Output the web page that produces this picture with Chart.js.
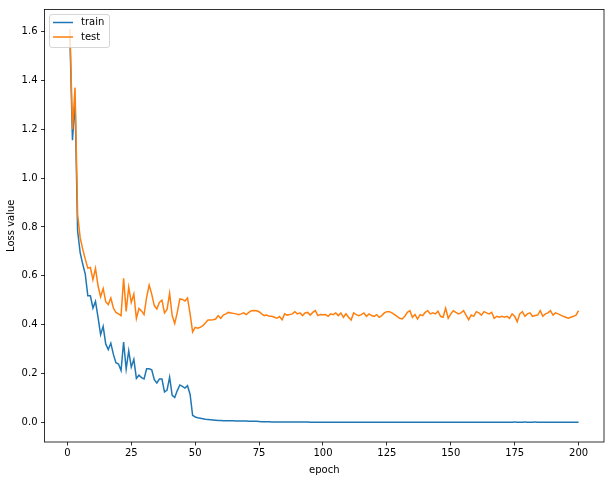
<!DOCTYPE html>
<html>
<head>
<meta charset="utf-8">
<script src="https://cdn.jsdelivr.net/npm/chart.js@4.4.1/dist/chart.umd.min.js"></script>
<style>
html,body{margin:0;padding:0;background:#fff;}
#wrap{width:609px;height:480px;position:relative;}
</style>
</head>
<body>
<div id="wrap"><canvas id="c" width="609" height="480"></canvas></div>
<script>
// ---- data ----
const epochs = [
  1,2,3,4,5,6,7,8,9,10,11,12,13,14,15,16,17,18,19,20,
  21,22,23,24,25,26,27,28,29,30,31,32,33,34,35,36,37,38,39,40,
  41,42,43,44,45,46,47,48,49,50,51,52,53,54,55,56,57,58,59,60,
  61,62,63,64,65,66,67,68,69,70,71,72,73,74,75,76,77,78,79,80,
  81,82,83,84,85,86,87,88,89,90,91,92,93,94,95,96,97,98,99,100,
  101,102,103,104,105,106,107,108,109,110,111,112,113,114,115,116,117,118,119,120,
  121,122,123,124,125,126,127,128,129,130,131,132,133,134,135,136,137,138,139,140,
  141,142,143,144,145,146,147,148,149,150,151,152,153,154,155,156,157,158,159,160,
  161,162,163,164,165,166,167,168,169,170,171,172,173,174,175,176,177,178,179,180,
  181,182,183,184,185,186,187,188,189,190,191,192,193,194,195,196,197,198,199,200
];
const trainLoss = [
  1.58,1.155,1.32,0.784,0.695,0.648,0.607,0.518,0.518,0.468,
  0.495,0.430,0.359,0.393,0.321,0.298,0.324,0.278,0.244,0.239,
  0.212,0.329,0.218,0.293,0.226,0.258,0.180,0.193,0.183,0.178,
  0.219,0.219,0.215,0.175,0.161,0.177,0.177,0.124,0.132,0.185,
  0.110,0.102,0.130,0.153,0.147,0.140,0.150,0.115,0.029,0.022,
  0.019,0.017,0.015,0.013,0.012,0.011,0.010,0.009,0.008,0.008,
  0.007,0.007,0.006,0.006,0.006,0.005,0.005,0.005,0.005,0.005,
  0.004,0.004,0.004,0.004,0.003,0.002,0.002,0.002,0.002,0.0015,
  0.0015,0.0014,0.0013,0.0013,0.0012,0.0012,0.0011,0.0011,0.0010,0.0010,
  0.0010,0.0009,0.0009,0.0009,0.0008,0.0008,0.0008,0.0008,0.0007,0.0007,
  0.0007,0.0007,0.0007,0.0007,0.0006,0.0006,0.0006,0.0006,0.0006,0.0006,
  0.0006,0.0006,0.0006,0.0005,0.0005,0.0005,0.0005,0.0005,0.0005,0.0005,
  0.0005,0.0005,0.0005,0.0005,0.0005,0.0005,0.0005,0.0005,0.0005,0.0005,
  0.0004,0.0004,0.0004,0.0004,0.0004,0.0004,0.0004,0.0004,0.0004,0.0004,
  0.0004,0.0004,0.0004,0.0004,0.0004,0.0004,0.0004,0.0004,0.0004,0.0004,
  0.0004,0.0004,0.0004,0.0004,0.0004,0.0004,0.0004,0.0004,0.0004,0.0004,
  0.0004,0.0004,0.0004,0.0004,0.0004,0.0004,0.0004,0.0004,0.0004,0.0004,
  0.0004,0.0005,0.0006,0.0008,0.0009,0.0008,0.0007,0.0008,0.0009,0.0008,
  0.0007,0.0008,0.0009,0.0008,0.0007,0.0006,0.0005,0.0004,0.0004,0.0004,
  0.0004,0.0004,0.0004,0.0004,0.0004,0.0004,0.0004,0.0004,0.0004,0.0004
];
const testLoss = [
  1.61,1.20,1.37,0.852,0.756,0.709,0.668,0.631,0.634,0.584,
  0.630,0.559,0.514,0.548,0.494,0.482,0.509,0.468,0.450,0.444,
  0.437,0.590,0.454,0.553,0.491,0.525,0.425,0.466,0.456,0.441,
  0.512,0.562,0.525,0.478,0.464,0.491,0.500,0.448,0.462,0.528,
  0.437,0.405,0.450,0.505,0.503,0.497,0.509,0.445,0.370,0.389,
  0.385,0.389,0.396,0.407,0.419,0.419,0.420,0.423,0.437,0.426,
  0.439,0.444,0.450,0.448,0.446,0.444,0.441,0.444,0.448,0.441,
  0.450,0.457,0.458,0.457,0.453,0.444,0.437,0.439,0.434,0.434,
  0.430,0.426,0.433,0.420,0.444,0.439,0.441,0.444,0.453,0.444,
  0.448,0.437,0.448,0.450,0.439,0.450,0.457,0.437,0.441,0.440,
  0.441,0.434,0.444,0.441,0.448,0.437,0.448,0.430,0.444,0.430,
  0.419,0.448,0.441,0.437,0.441,0.448,0.434,0.444,0.437,0.434,
  0.441,0.430,0.437,0.448,0.453,0.453,0.448,0.441,0.434,0.426,
  0.423,0.434,0.450,0.457,0.430,0.441,0.423,0.441,0.437,0.450,
  0.457,0.444,0.448,0.444,0.455,0.434,0.430,0.467,0.426,0.444,
  0.457,0.450,0.444,0.448,0.457,0.439,0.420,0.439,0.434,0.453,
  0.448,0.439,0.453,0.448,0.444,0.450,0.426,0.434,0.430,0.434,
  0.430,0.434,0.426,0.444,0.434,0.412,0.444,0.453,0.434,0.444,
  0.448,0.434,0.437,0.439,0.457,0.434,0.444,0.448,0.457,0.439,
  0.448,0.444,0.439,0.434,0.430,0.426,0.430,0.434,0.439,0.457
];
const xTicks = [0,25,50,75,100,125,150,175,200];
const yTicks = [0.0,0.2,0.4,0.6,0.8,1.0,1.2,1.4,1.6];
const seriesNames = ['train','test'];
const seriesColors = ['#1f77b4','#ff7f0e'];
const xTitle = 'epoch';
const yTitle = 'Loss value';

const FONT = 'DejaVu Sans';

const framePlugin = {
  id: 'frame',
  afterDraw(chart) {
    const {ctx, chartArea: a} = chart;
    ctx.save();
    ctx.strokeStyle = '#000';
    ctx.lineWidth = 0.8;
    ctx.strokeRect(a.left, a.top, a.right - a.left, a.bottom - a.top);
    // legend (upper left, inside axes)
    const bx = a.left + 5, by = a.top + 5, bw = 60, bh = 33, r = 2.5;
    ctx.beginPath();
    ctx.moveTo(bx + r, by);
    ctx.lineTo(bx + bw - r, by);
    ctx.quadraticCurveTo(bx + bw, by, bx + bw, by + r);
    ctx.lineTo(bx + bw, by + bh - r);
    ctx.quadraticCurveTo(bx + bw, by + bh, bx + bw - r, by + bh);
    ctx.lineTo(bx + r, by + bh);
    ctx.quadraticCurveTo(bx, by + bh, bx, by + bh - r);
    ctx.lineTo(bx, by + r);
    ctx.quadraticCurveTo(bx, by, bx + r, by);
    ctx.closePath();
    ctx.fillStyle = 'rgba(255,255,255,0.8)';
    ctx.fill();
    ctx.strokeStyle = 'rgba(204,204,204,0.8)';
    ctx.lineWidth = 1;
    ctx.stroke();
    ctx.font = '10px "' + FONT + '"';
    ctx.textBaseline = 'middle';
    ctx.textAlign = 'left';
    seriesNames.forEach((name, i) => {
      const y = by + 8 + i * 14.5;
      ctx.strokeStyle = seriesColors[i];
      ctx.lineWidth = 1.5;
      ctx.beginPath();
      ctx.moveTo(bx + 3.5, y);
      ctx.lineTo(bx + 23.5, y);
      ctx.stroke();
      ctx.fillStyle = '#000';
      ctx.fillText(name, bx + 31.5, y);
    });
    ctx.restore();
  }
};

const ds = (vals, i) => ({
  label: seriesNames[i],
  data: vals.map((v, k) => ({x: epochs[k], y: v})),
  borderColor: seriesColors[i],
  backgroundColor: seriesColors[i],
  borderWidth: 1.5,
  pointRadius: 0,
  tension: 0,
  fill: false,
  order: i === 0 ? 1 : 0
});

new Chart(document.getElementById('c'), {
  type: 'line',
  data: { datasets: [ds(trainLoss, 0), ds(testLoss, 1)] },
  options: {
    responsive: false,
    animation: false,
    devicePixelRatio: 1,
    layout: { padding: { top: 7, right: 5, left: 0, bottom: 0 } },
    plugins: { legend: { display: false }, tooltip: { enabled: false } },
    scales: {
      x: {
        type: 'linear',
        min: -8.95, max: 209.95,
        afterBuildTicks: (axis) => { axis.ticks = xTicks.map(v => ({value: v})); },
        afterFit: (axis) => { axis.height = 38; },
        grid: { display: true, drawOnChartArea: false, drawTicks: true, tickLength: 3.5, color: '#000', lineWidth: 0.8 },
        border: { display: false },
        ticks: { color: '#000', padding: 2, maxRotation: 0, autoSkip: false, font: { family: FONT, size: 10 }, callback: (v) => String(v) },
        title: { display: true, text: xTitle, color: '#000', font: { family: FONT, size: 10 }, padding: { top: 2, bottom: 4 } }
      },
      y: {
        type: 'linear',
        min: -0.0805, max: 1.69,
        afterBuildTicks: (axis) => { axis.ticks = yTicks.map(v => ({value: v})); },
        afterFit: (axis) => { axis.width = 44.5; },
        grid: { display: true, drawOnChartArea: false, drawTicks: true, tickLength: 3.5, color: '#000', lineWidth: 0.8 },
        border: { display: false },
        ticks: { color: '#000', padding: 3.5, font: { family: FONT, size: 10 }, callback: (v) => Number(v).toFixed(1) },
        title: { display: true, text: yTitle, color: '#000', font: { family: FONT, size: 10 }, padding: { top: 5, bottom: 4 } }
      }
    }
  },
  plugins: [framePlugin]
});
</script>
</body>
</html>
